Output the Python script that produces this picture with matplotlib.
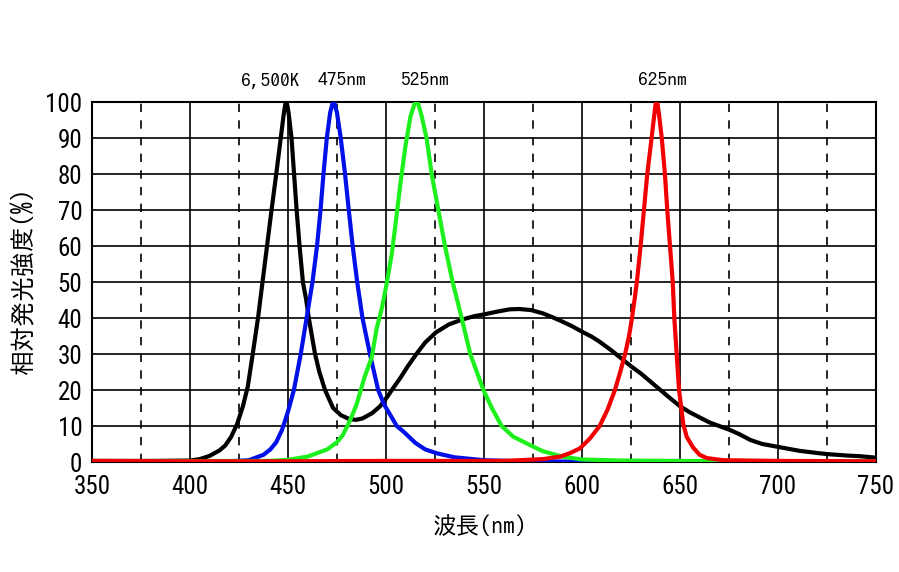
import matplotlib
matplotlib.use("Agg")
import matplotlib.pyplot as plt

plt.rcParams['font.family'] = ['Roboto Condensed', 'IPAGothic', 'DejaVu Sans']

# 6,500K white LED
wl_white = [350, 380, 400, 405, 410, 415, 418, 421, 424, 427, 429.5, 432, 434.7, 437, 439.3,
            441.6, 444, 446.3, 447.8, 448.5, 449, 449.6, 450.3, 451.8, 453.1, 454.4, 455.9,
            457.6, 459.3, 460.6, 463.8, 466, 468.9, 473, 477, 481, 484.5, 488, 493, 497, 500.5,
            504, 507.5, 511, 515.5, 520, 525.5, 532, 539, 545, 550, 557, 563, 568, 574, 580,
            585, 590, 595, 600, 605, 609, 615, 620, 625, 630, 635, 640, 645, 650, 655, 660,
            665, 670, 675, 680, 686, 692, 700, 711, 720, 725, 735, 742, 750]
val_white = [0.3, 0.3, 0.4, 0.8, 1.7, 3.2, 4.6, 7, 10.5, 15.5, 21, 30, 40, 50, 60,
             70, 80, 90, 96.5, 99, 100, 99.2, 97, 90, 80, 70, 60,
             50, 45, 40, 30, 25, 20, 15, 13, 12, 11.7, 12.1, 13.6, 15.5, 18,
             20.8, 23.5, 26.5, 30, 33.2, 36, 38.2, 39.6, 40.5, 41, 41.8, 42.4, 42.5, 42.2, 41.3,
             40.2, 39, 37.7, 36.2, 34.8, 33.4, 31, 28.8, 26.6, 24.6, 22.3, 20, 17.7, 15.5, 13.8, 12.4,
             11, 10, 9, 7.8, 6.1, 5, 4.2, 3.1, 2.5, 2.2, 1.8, 1.6, 1.2]

# 475nm
wl_blue = [350, 420, 430, 437.5, 441, 444, 447, 450, 453, 456.5, 459.5, 462.5, 464.8, 466.6,
           468.1, 469.8, 471.5, 472.6, 473.2, 473.8, 475, 476.9, 479.1, 481, 483, 485.3, 488,
           491.8, 496, 499, 505.5, 509, 515, 520, 526, 535, 550, 570, 600, 750]
val_blue = [0.1, 0.2, 0.5, 2, 3.5, 5.5, 9, 14, 20, 30, 40, 50, 60, 70,
            80, 90, 97, 99.4, 100, 99.4, 97, 90, 80, 70, 60, 50, 40,
            30, 20, 16, 10, 8.4, 5.3, 3.5, 2.4, 1.3, 0.5, 0.2, 0.1, 0.1]

# 525nm
wl_green = [350, 440, 450, 460, 465, 470, 475, 478, 481.6, 485, 489, 492.7, 495.2, 498,
            500.5, 503, 505.3, 507.5, 510, 512.5, 514.5, 515.5, 516.5, 518, 520.7, 523.3,
            526.7, 530.1, 534, 538.6, 543, 549.7, 554, 559, 565, 573.5, 580, 590, 600, 620,
            650, 750]
val_green = [0.2, 0.3, 0.6, 1.5, 2.5, 3.5, 5.5, 7.5, 11.5, 16, 23.5, 29, 37, 43,
             50, 58, 68, 78, 88, 96, 99.4, 100, 99.4, 96.5, 90, 80,
             70, 60, 50, 40, 30, 20, 15, 10, 7, 4.7, 3, 1.5, 0.7, 0.4,
             0.3, 0.2]

# 625nm
wl_red = [350, 400, 450, 500, 560, 580, 589, 594, 599, 604, 609, 613, 616.8, 619.5, 622,
          624, 625.5, 626.8, 628, 629.9, 631.6, 633.3, 635.5, 636.8, 637.5, 638, 638.6,
          639.3, 640.7, 642.3, 643.5, 644.9, 646.3, 647.1, 648.3, 649.5, 651.7, 653.4, 656.7,
          660, 663.6, 672, 700, 750]
val_red = [0.3, 0.2, 0.2, 0.3, 0.3, 0.8, 1.5, 2.5, 3.8, 6.5, 10, 14.5, 20, 25, 30,
           35, 40, 45, 50, 60, 70, 80, 90, 96, 99.2, 100, 99.3,
           96.5, 90, 80, 70, 60, 50, 40, 30, 20, 10.5, 7, 4,
           2, 1.1, 0.5, 0.3, 0.2]

label_x = [440.8, 477.5, 519.4, 640.8]
label_txt = ['6,500K', '475nm', '525nm', '625nm']

fig = plt.figure(figsize=(8.99, 5.72), dpi=100)
ax = fig.add_axes([92/899, 1 - 462/572, 784/899, 360/572])

ax.plot(wl_white, val_white, color='black', lw=3, zorder=3)
ax.plot(wl_blue, val_blue, color='#0010e6', lw=3, zorder=3)
ax.plot(wl_green, val_green, color='#1ef01e', lw=3, zorder=3)
ax.plot(wl_red, val_red, color='#f00000', lw=3, zorder=3)

ax.set_xlim(350, 750)
ax.set_ylim(0, 100)
ax.set_xticks(range(350, 751, 50))
ax.set_yticks(range(0, 101, 10))
ax.set_xticks(range(375, 750, 50), minor=True)
ax.grid(True, which='major', color='black', lw=1.2)
ax.grid(True, which='minor', axis='x', color='black', lw=1.2, ls=(0, (5, 5)))
ax.tick_params(which='both', length=0, labelsize=18)
ax.tick_params(axis='y', pad=7)
ax.tick_params(axis='x', pad=9)
for s in ax.spines.values():
    s.set_linewidth(1.5)
    s.set_color('black')

for x, t in zip(label_x, label_txt):
    ax.text(x, 106, t, ha='center', va='center', fontsize=14, clip_on=False,
            family=['IPAGothic', 'DejaVu Sans'])

fig.text(480/899, 1 - 525/572, '波長(nm)', ha='center', va='center', fontsize=17,
         family=['IPAGothic', 'DejaVu Sans'])
fig.text(22/899, 1 - 280/572, '相対発光強度(%)', ha='center', va='center', fontsize=18,
         rotation=90, family=['IPAGothic', 'DejaVu Sans'])

fig.savefig('out.png', dpi=100)
